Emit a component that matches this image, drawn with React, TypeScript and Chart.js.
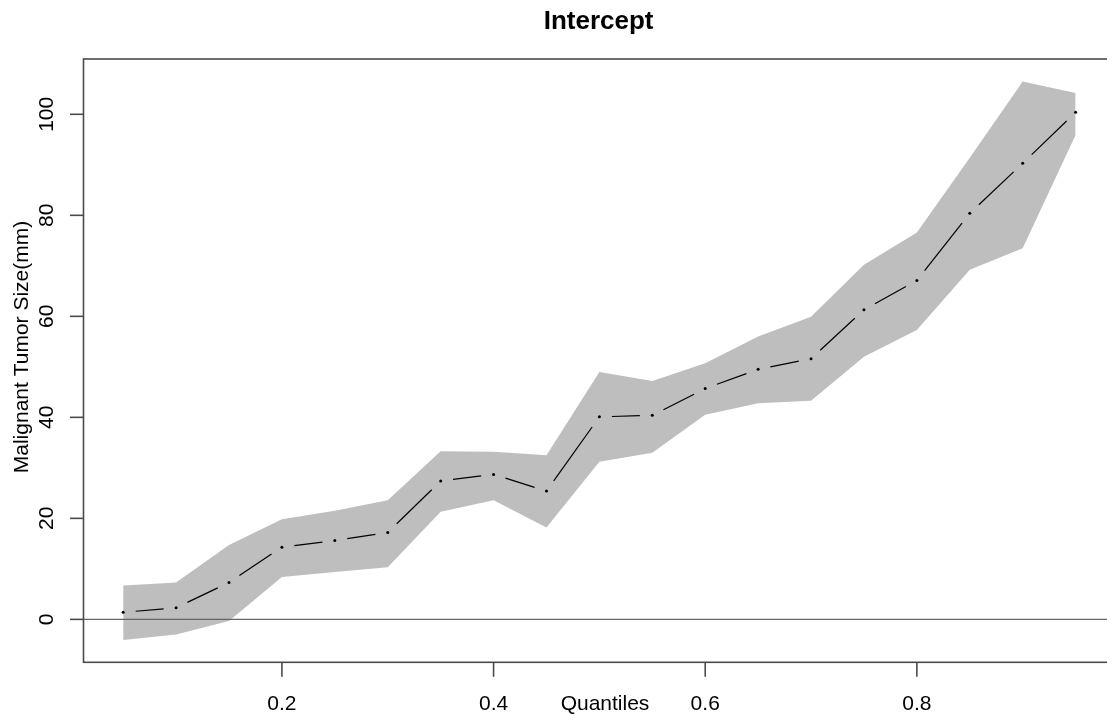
import React, { useEffect, useRef } from "react";
import { Chart, registerables } from "chart.js";

Chart.register(...registerables);

// ---- data ----
const taus = [0.05, 0.1, 0.15, 0.2, 0.25, 0.3, 0.35, 0.4, 0.45, 0.5, 0.55, 0.6, 0.65, 0.7, 0.75, 0.8, 0.85, 0.9, 0.95];
const estimate = [1.4, 2.3, 7.3, 14.3, 15.6, 17.2, 27.4, 28.7, 25.4, 40.1, 40.4, 45.7, 49.5, 51.6, 61.3, 67.1, 80.4, 90.3, 100.4];
const upper = [6.7, 7.3, 14.7, 19.8, 21.5, 23.6, 33.3, 33.2, 32.5, 49.0, 47.2, 50.7, 56.0, 59.9, 70.2, 76.6, 91.4, 106.5, 104.2];
const lower = [-4.1, -3.0, -0.3, 8.4, 9.4, 10.3, 21.3, 23.6, 18.2, 31.2, 33.0, 40.5, 42.8, 43.3, 52.0, 57.3, 69.2, 73.5, 95.9];
const xTicks = [0.2, 0.4, 0.6, 0.8];
const yTicks = [0, 20, 40, 60, 80, 100];
const xTickLabels = ["0.2", "0.4", "0.6", "0.8"];
const yTickLabels = ["0", "20", "40", "60", "80", "100"];
const titleText = "Intercept";
const xLabel = "Quantiles";
const yLabel = "Malignant Tumor Size(mm)";

const FONT = '"Liberation Sans", Arial, Helvetica, sans-serif';
const GAP = 12.5;

const rPlugin = {
  id: "rStyle",
  beforeDatasetDraw(chart: any, args: any) {
    if (args.index !== 0) return;
    const { ctx, chartArea, scales } = chart;
    const y0 = scales.y.getPixelForValue(0);
    ctx.save();
    ctx.strokeStyle = "#666666";
    ctx.lineWidth = 1.2;
    ctx.beginPath();
    ctx.moveTo(chartArea.left, y0);
    ctx.lineTo(chartArea.right, y0);
    ctx.stroke();
    const pts = chart.getDatasetMeta(0).data;
    ctx.strokeStyle = "#000";
    ctx.lineWidth = 1.2;
    for (let i = 0; i < pts.length - 1; i++) {
      const a = pts[i];
      const b = pts[i + 1];
      const dx = b.x - a.x;
      const dy = b.y - a.y;
      const len = Math.hypot(dx, dy);
      if (len <= 2 * GAP) continue;
      const ux = dx / len;
      const uy = dy / len;
      ctx.beginPath();
      ctx.moveTo(a.x + ux * GAP, a.y + uy * GAP);
      ctx.lineTo(b.x - ux * GAP, b.y - uy * GAP);
      ctx.stroke();
    }
    ctx.restore();
  },
  afterDraw(chart: any) {
    const { ctx, chartArea, scales } = chart;
    const { left, right, top, bottom } = chartArea;
    ctx.save();
    // box
    ctx.strokeStyle = "#4a4a4a";
    ctx.lineWidth = 1.6;
    ctx.strokeRect(left, top, right - left, bottom - top);
    // x ticks
    ctx.fillStyle = "#000";
    ctx.font = `21px ${FONT}`;
    ctx.textAlign = "center";
    ctx.textBaseline = "alphabetic";
    xTicks.forEach((v, i) => {
      const px = scales.x.getPixelForValue(v);
      ctx.beginPath();
      ctx.moveTo(px, bottom);
      ctx.lineTo(px, bottom + 14.5);
      ctx.stroke();
      ctx.fillText(xTickLabels[i], px, 710);
    });
    // x label
    ctx.fillText(xLabel, 605, 710);
    // y ticks
    yTicks.forEach((v, i) => {
      const py = scales.y.getPixelForValue(v);
      ctx.beginPath();
      ctx.moveTo(left, py);
      ctx.lineTo(left - 13.5, py);
      ctx.stroke();
      ctx.save();
      ctx.translate(53.3, py);
      ctx.rotate(-Math.PI / 2);
      ctx.fillText(yTickLabels[i], 0, 0);
      ctx.restore();
    });
    // y label
    ctx.save();
    ctx.translate(28.3, 347);
    ctx.rotate(-Math.PI / 2);
    ctx.fillText(yLabel, 0, 0);
    ctx.restore();
    // title
    ctx.font = `bold 26px ${FONT}`;
    ctx.fillText(titleText, (left + right) / 2, 29.3);
    ctx.restore();
  },
};

export default function App() {
  const ref = useRef<HTMLCanvasElement | null>(null);

  useEffect(() => {
    if (!ref.current) return;
    const chart = new Chart(ref.current, {
      type: "line",
      data: {
        datasets: [
          {
            label: "estimate",
            data: taus.map((t, i) => ({ x: t, y: estimate[i] })),
            showLine: false,
            pointRadius: 1.5,
            pointBorderWidth: 0,
            pointBackgroundColor: "#000",
            borderColor: "#000",
            fill: false,
          },
          {
            label: "upper",
            data: taus.map((t, i) => ({ x: t, y: upper[i] })),
            borderWidth: 0,
            borderColor: "rgba(0,0,0,0)",
            backgroundColor: "#BEBEBE",
            pointRadius: 0,
            fill: "+1",
            tension: 0,
          },
          {
            label: "lower",
            data: taus.map((t, i) => ({ x: t, y: lower[i] })),
            borderWidth: 0,
            borderColor: "rgba(0,0,0,0)",
            backgroundColor: "#BEBEBE",
            pointRadius: 0,
            fill: false,
            tension: 0,
          },
        ],
      },
      options: {
        responsive: false,
        animation: false,
        events: [],
        layout: { padding: { left: 83.5, top: 59, right: 26.3, bottom: 51.7 } },
        plugins: {
          legend: { display: false },
          tooltip: { enabled: false },
          title: { display: false },
        },
        scales: {
          x: { type: "linear", display: false, min: 0.0125, max: 0.986 },
          y: { type: "linear", display: false, min: -8.5, max: 110.95 },
        },
      },
      plugins: [rPlugin],
    });
    return () => chart.destroy();
  }, []);

  return (
    <div
      style={{
        position: "fixed",
        left: 0,
        top: 0,
        width: "100vw",
        height: "100vh",
        overflow: "hidden",
        background: "#fff",
      }}
    >
      <canvas ref={ref} width={1140} height={714} style={{ display: "block" }} />
    </div>
  );
}
